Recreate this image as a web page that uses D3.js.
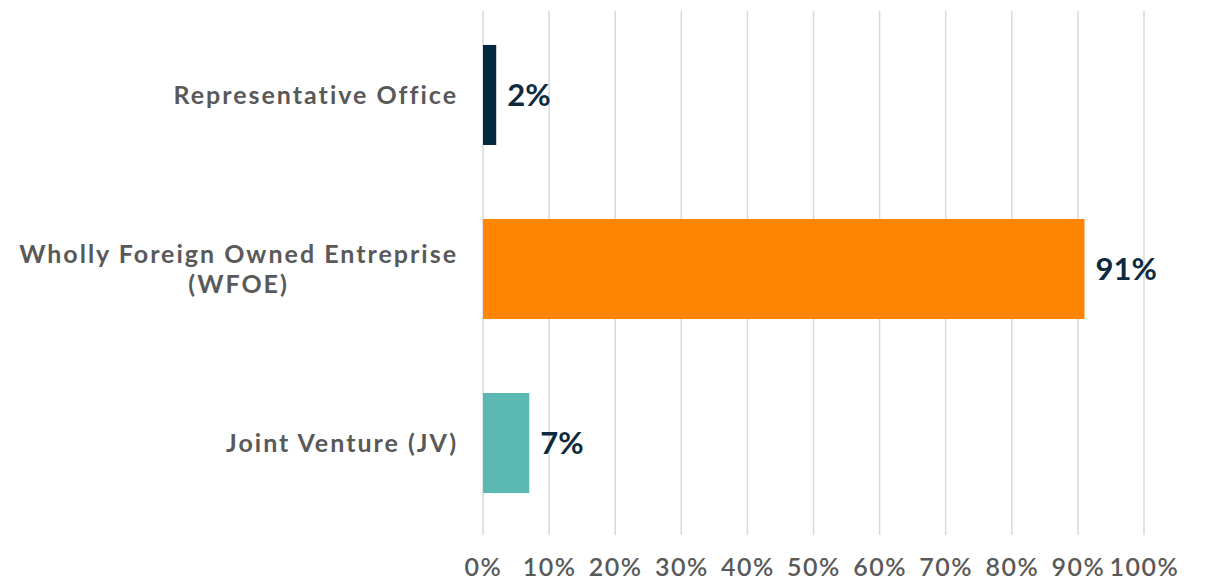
<!DOCTYPE html>
<html>
<head>
<meta charset="utf-8">
<script src="https://cdn.jsdelivr.net/npm/d3@7"></script>
<style>
  body { margin: 0; background: #fff; }
  text { font-family: Lato, "Noto Sans", sans-serif; }
</style>
</head>
<body>
<div class="chart"></div>
<script>
let categories = ["Representative Office", "Wholly Foreign Owned Entreprise\n(WFOE)", "Joint Venture (JV)"];
let values = [0.02, 0.91, 0.07];
let barColors = ["#05283f", "#ff8503", "#5cb8b2"];
let tickValues = [0, 0.1, 0.2, 0.3, 0.4, 0.5, 0.6, 0.7, 0.8, 0.9, 1.0];

let svgWidth = 1209;
let svgHeight = 580;

let margin = { top: 11, right: 65, bottom: 45, left: 483 };

let width = svgWidth - margin.left - margin.right;
let height = svgHeight - margin.top - margin.bottom;

let svg = d3.select(".chart")
    .append("svg")
    .attr("width", svgWidth)
    .attr("height", svgHeight);

let chartGroup = svg.append("g")
    .attr("transform", `translate(${margin.left}, ${margin.top})`);

let xScale = d3.scaleLinear()
    .domain([0, 1])
    .range([0, width]);

let yScale = d3.scaleBand()
    .domain(categories)
    .range([0, 516])
    .paddingInner(0.425)
    .paddingOuter(0.195);

// gridlines
chartGroup.selectAll(".grid")
    .data(tickValues)
    .enter()
    .append("line")
    .attr("x1", d => xScale(d))
    .attr("x2", d => xScale(d))
    .attr("y1", 0)
    .attr("y2", height)
    .attr("stroke", "#d9d9d9")
    .attr("stroke-width", 1.5);

// x axis labels
let bottomAxis = d3.axisBottom(xScale)
    .tickValues(tickValues)
    .tickFormat(d3.format(".0%"))
    .tickSize(0)
    .tickPadding(23);

let xAxis = chartGroup.append("g")
    .attr("transform", `translate(0, ${height})`)
    .call(bottomAxis);

xAxis.select(".domain").remove();
xAxis.selectAll("text")
    .attr("fill", "#595959")
    .style("font-size", "25px")
    .style("font-weight", "600")
    .style("letter-spacing", "1.5px");

// bars
chartGroup.selectAll(".bar")
    .data(categories)
    .enter()
    .append("rect")
    .attr("x", 0)
    .attr("y", d => yScale(d))
    .attr("width", (d, i) => xScale(values[i]))
    .attr("height", yScale.bandwidth())
    .attr("fill", (d, i) => barColors[i]);

// value labels
chartGroup.selectAll(".val")
    .data(categories)
    .enter()
    .append("text")
    .attr("x", (d, i) => xScale(values[i]) + 11)
    .attr("y", d => yScale(d) + yScale.bandwidth() / 2)
    .attr("dy", "0.35em")
    .attr("fill", "#0d2a3f")
    .style("font-size", "31px")
    .style("font-weight", "700")
    .text((d, i) => d3.format(".0%")(values[i]));

// category labels: block right aligned, lines centred in block
categories.forEach(c => {
    let lines = c.split("\n");
    let g = chartGroup.append("g");
    let lineH = 30;
    let cy = yScale(c) + yScale.bandwidth() / 2;
    let texts = lines.map((l, i) => g.append("text")
        .attr("y", cy + (i - (lines.length - 1) / 2) * lineH)
        .attr("dy", "0.35em")
        .attr("fill", "#595959")
        .style("font-size", "25px")
        .style("font-weight", "700")
        .style("letter-spacing", "2px")
        .text(l));
    let maxW = d3.max(texts, t => t.node().getComputedTextLength());
    let cx = -25 - maxW / 2;
    texts.forEach(t => t.attr("x", cx).attr("text-anchor", "middle"));
});
</script>
</body>
</html>
